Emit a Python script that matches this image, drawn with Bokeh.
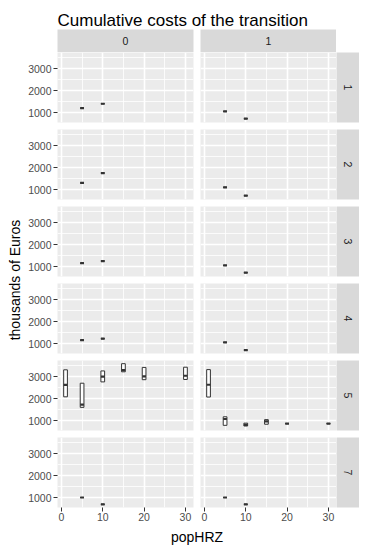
import numpy as np
import pandas as pd
from bokeh.plotting import figure
from bokeh.layouts import column, row
from bokeh.models import Range1d, LinearAxis, FixedTicker, Grid, ColumnDataSource
from bokeh.core.properties import value
from bokeh.embed import file_html
from bokeh.resources import INLINE

# ---------------- data ----------------
title_text = "Cumulative costs of the transition"
x_label = "popHRZ"
y_label = "thousands of Euros"
col_levels = [0, 1]
row_levels = [1, 2, 3, 4, 5, 7]
x_ticks = [0, 10, 20, 30]
x_minor = [5, 15, 25]
y_ticks = [1000, 2000, 3000]
y_minor = [1500, 2500, 3500]

facet_col = [0, 0, 0, 0, 0, 0, 0, 0, 0, 0, 0, 0, 0, 0, 0, 0,
             1, 1, 1, 1, 1, 1, 1, 1, 1, 1, 1, 1, 1, 1, 1, 1]
facet_row = [1, 1, 2, 2, 3, 3, 4, 4, 5, 5, 5, 5, 5, 5, 7, 7,
             1, 1, 2, 2, 3, 3, 4, 4, 5, 5, 5, 5, 5, 5, 7, 7]
pop_hrz = [5, 10, 5, 10, 5, 10, 5, 10, 1, 5, 10, 15, 20, 30, 5, 10,
           5, 10, 5, 10, 5, 10, 5, 10, 1, 5, 10, 15, 20, 30, 5, 10]
box_lower = [1200, 1400, 1300, 1750, 1150, 1250, 1150, 1220,
             2080, 1600, 2760, 3220, 2860, 2870, 1000, 690,
             1050, 720, 1100, 720, 1050, 720, 1050, 700,
             2070, 780, 750, 830, 860, 860, 1000, 690]
box_middle = [1200, 1400, 1300, 1750, 1150, 1250, 1150, 1220,
              2620, 1720, 3000, 3300, 3010, 3040, 1000, 690,
              1050, 720, 1100, 720, 1050, 720, 1050, 700,
              2630, 1070, 800, 960, 860, 860, 1000, 690]
box_upper = [1200, 1400, 1300, 1750, 1150, 1250, 1150, 1220,
             3310, 2700, 3260, 3590, 3420, 3430, 1000, 690,
             1050, 720, 1100, 720, 1050, 720, 1050, 700,
             3320, 1170, 880, 1040, 860, 860, 1000, 690]

df = pd.DataFrame(dict(col=facet_col, row=facet_row, pop=pop_hrz,
                       lower=box_lower, middle=box_middle, upper=box_upper))

# ---------------- geometry / style ----------------
FONT = "Liberation Sans"
LBL_W = 22      # y-label strip
AX_W = 35       # y axis area
FW = 136        # panel frame width
FH = 70         # panel frame height
GAP = 7
STRIP = 23
XAX_H = 18
TITLE_H = 29
XLAB_H = 23
BOX_W = 0.9
TOTAL_W = LBL_W + AX_W + FW + GAP + FW + STRIP

x_lo = min(pop_hrz) - BOX_W / 2
x_hi = max(pop_hrz) + BOX_W / 2
xpad = 0.05 * (x_hi - x_lo)
y_lo = min(box_lower)
y_hi = max(box_upper)
ypad = 0.05 * (y_hi - y_lo)
xr = Range1d(x_lo - xpad, x_hi + xpad)
yr = Range1d(y_lo - ypad, y_hi + ypad)


def blank(w, h, ml=0, mr=0, mt=0, mb=0, bg="white", xr_=None, yr_=None):
    f = figure(width=w, height=h,
               x_range=xr_ if xr_ is not None else Range1d(0, 1),
               y_range=yr_ if yr_ is not None else Range1d(0, 1),
               x_axis_location=None, y_axis_location=None,
               toolbar_location=None, output_backend="svg",
               min_border_left=ml, min_border_right=mr,
               min_border_top=mt, min_border_bottom=mb,
               background_fill_color=bg, border_fill_color="white",
               outline_line_color=None)
    f.grid.visible = False
    return f


def strip_fig(w, h, label, angle, ml=0, mr=0, mb=0):
    s = blank(w, h, ml=ml, mr=mr, mb=mb, bg="#D9D9D9")
    s.text(x=[0.5], y=[0.5], text=[str(label)], angle=angle,
           text_align="center", text_baseline="middle",
           text_font=value(FONT), text_font_size="10.5px", text_color="#1A1A1A")
    return s


def panel(c, r, last):
    left = AX_W if c == 0 else 0
    right = GAP if c == 0 else 0
    bottom = XAX_H if last else GAP
    p = blank(FW + left + right, FH + bottom, ml=left, mr=right, mb=bottom,
              bg="#EBEBEB", xr_=xr, yr_=yr)
    xt = FixedTicker(ticks=x_ticks, minor_ticks=x_minor)
    yt = FixedTicker(ticks=y_ticks, minor_ticks=y_minor)
    for dim, tk in ((0, xt), (1, yt)):
        p.add_layout(Grid(dimension=dim, ticker=tk,
                          grid_line_color="white", grid_line_width=1.6,
                          minor_grid_line_color="white", minor_grid_line_width=0.8))
    if c == 0:
        ax = LinearAxis(ticker=FixedTicker(ticks=y_ticks),
                        axis_line_color=None, major_tick_line_color="#333333",
                        major_tick_in=0, major_tick_out=4, minor_tick_line_color=None,
                        major_label_text_font=FONT, major_label_text_font_size="10.5px",
                        major_label_text_color="#4D4D4D", major_label_standoff=2)
        p.add_layout(ax, "left")
    if last:
        ax = LinearAxis(ticker=FixedTicker(ticks=x_ticks),
                        axis_line_color=None, major_tick_line_color="#333333",
                        major_tick_in=0, major_tick_out=4, minor_tick_line_color=None,
                        major_label_text_font=FONT, major_label_text_font_size="10.5px",
                        major_label_text_color="#4D4D4D", major_label_standoff=1)
        p.add_layout(ax, "below")
    sub = df[(df["col"] == c) & (df["row"] == r)]
    src = ColumnDataSource(dict(
        x=sub["pop"].values, lo=sub["lower"].values, mid=sub["middle"].values,
        hi=sub["upper"].values,
        x0=sub["pop"].values - BOX_W / 2, x1=sub["pop"].values + BOX_W / 2))
    p.vbar(x="x", width=BOX_W, bottom="lo", top="hi", source=src,
           fill_color="white", line_color="#333333", line_width=1)
    p.segment(x0="x0", x1="x1", y0="mid", y1="mid", source=src,
              line_color="#333333", line_width=2.2)
    return p


# title
tfig = blank(TOTAL_W, TITLE_H, xr_=Range1d(0, TOTAL_W), yr_=Range1d(0, TITLE_H))
tfig.text(x=[LBL_W + AX_W], y=[TITLE_H - 20], text=[title_text],
          text_align="left", text_baseline="alphabetic",
          text_font=value(FONT), text_font_size="17px", text_color="black")

# column strips
srow = row(strip_fig(LBL_W + AX_W + FW + GAP, STRIP, col_levels[0], 0,
                     ml=LBL_W + AX_W, mr=GAP),
           strip_fig(FW, STRIP, col_levels[1], 0),
           blank(STRIP, STRIP))

# panels
prow_list = []
for i, r in enumerate(row_levels):
    last = i == len(row_levels) - 1
    bottom = XAX_H if last else GAP
    prow_list.append(row(panel(0, r, last), panel(1, r, last),
                         strip_fig(STRIP, FH + bottom, r, -np.pi / 2, mb=bottom)))
panels_h = (len(row_levels) - 1) * (FH + GAP) + FH + XAX_H
panels_frame_h = len(row_levels) * FH + (len(row_levels) - 1) * GAP

# y label
yfig = blank(LBL_W, panels_h, xr_=Range1d(0, LBL_W), yr_=Range1d(0, panels_h))
yfig.text(x=[14.5], y=[panels_h - panels_frame_h / 2], text=[y_label],
          angle=np.pi / 2, text_align="center", text_baseline="middle",
          text_font=value(FONT), text_font_size="14px", text_color="black")

# x label
xfig = blank(TOTAL_W, XLAB_H, xr_=Range1d(0, TOTAL_W), yr_=Range1d(0, XLAB_H))
xfig.text(x=[LBL_W + AX_W + (2 * FW + GAP) / 2], y=[XLAB_H / 2], text=[x_label],
          text_align="center", text_baseline="middle",
          text_font=value(FONT), text_font_size="14px", text_color="black")

layout = column(tfig, srow, row(yfig, column(*prow_list)), xfig)

open("out.html", "w").write(file_html(layout, INLINE))
